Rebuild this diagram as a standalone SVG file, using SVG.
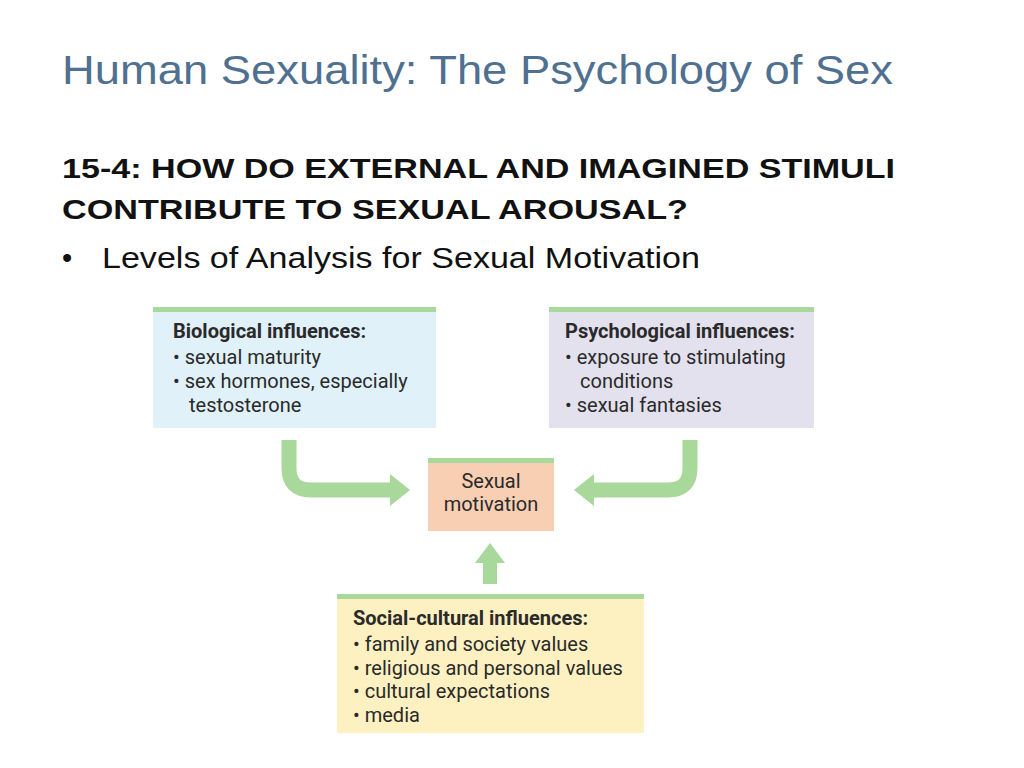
<svg xmlns="http://www.w3.org/2000/svg" width="1024" height="768" viewBox="0 0 1024 768">
<style>
.t{font-family:Roboto,"Liberation Sans",sans-serif;fill:#2a2a2a;font-size:20px}
.h{font-weight:bold}
.bar{fill:#a8d89a}
.arr{fill:none;stroke:#a8d89a;stroke-width:15}
.ah{fill:#a8d89a}
</style>
<rect width="1024" height="768" fill="#ffffff"/>
<text x="62" y="84" font-family="Liberation Sans,Arial,sans-serif" font-size="40" fill="#4f7090" textLength="831" lengthAdjust="spacingAndGlyphs">Human Sexuality: The Psychology of Sex</text>
<g font-family="Liberation Sans,Arial,sans-serif" font-size="28" fill="#111">
<text x="62" y="178" font-weight="bold" textLength="833" lengthAdjust="spacingAndGlyphs">15-4: HOW DO EXTERNAL AND IMAGINED STIMULI</text>
<text x="62" y="219" font-weight="bold" textLength="626" lengthAdjust="spacingAndGlyphs">CONTRIBUTE TO SEXUAL AROUSAL?</text>
<text x="62" y="268" font-size="29">•</text>
<text x="102" y="268" font-size="29" textLength="598" lengthAdjust="spacingAndGlyphs">Levels of Analysis for Sexual Motivation</text>
</g>
<g id="connectors">
<path class="arr" d="M289 440 V468 Q289 490 311 490 H392"/>
<polygon class="ah" points="390,474 410,490 390,506"/>
<path class="arr" d="M690 440 V468 Q690 490 668 490 H592"/>
<polygon class="ah" points="594,474 574,490 594,506"/>
<rect class="ah" x="483" y="560" width="14" height="24"/>
<polygon class="ah" points="475,563 490,543 505,563"/>
</g>
<g id="bio">
<rect x="153" y="307" width="283" height="121" fill="#e0f1fa"/>
<rect class="bar" x="153" y="307" width="283" height="5"/>
<text class="t h" x="173" y="338">Biological influences:</text>
<text class="t" x="173" y="364">• sexual maturity</text>
<text class="t" x="173" y="388">• sex hormones, especially</text>
<text class="t" x="189" y="412">testosterone</text>
</g>
<g id="psych">
<rect x="549" y="307" width="265" height="121" fill="#e3e1ee"/>
<rect class="bar" x="549" y="307" width="265" height="5"/>
<text class="t h" x="565" y="338">Psychological influences:</text>
<text class="t" x="565" y="364">• exposure to stimulating</text>
<text class="t" x="580" y="388">conditions</text>
<text class="t" x="565" y="412">• sexual fantasies</text>
</g>
<g id="motivation">
<rect x="428" y="458" width="126" height="73" fill="#f9cfb4"/>
<rect class="bar" x="428" y="458" width="126" height="5"/>
<text class="t" x="491" y="488" text-anchor="middle">Sexual</text>
<text class="t" x="491" y="511" text-anchor="middle">motivation</text>
</g>
<g id="social">
<rect x="337" y="594" width="307" height="139" fill="#fdf1c2"/>
<rect class="bar" x="337" y="594" width="307" height="5"/>
<text class="t h" x="353" y="625">Social-cultural influences:</text>
<text class="t" x="353" y="651">• family and society values</text>
<text class="t" x="353" y="675">• religious and personal values</text>
<text class="t" x="353" y="698">• cultural expectations</text>
<text class="t" x="353" y="722">• media</text>
</g>
</svg>
